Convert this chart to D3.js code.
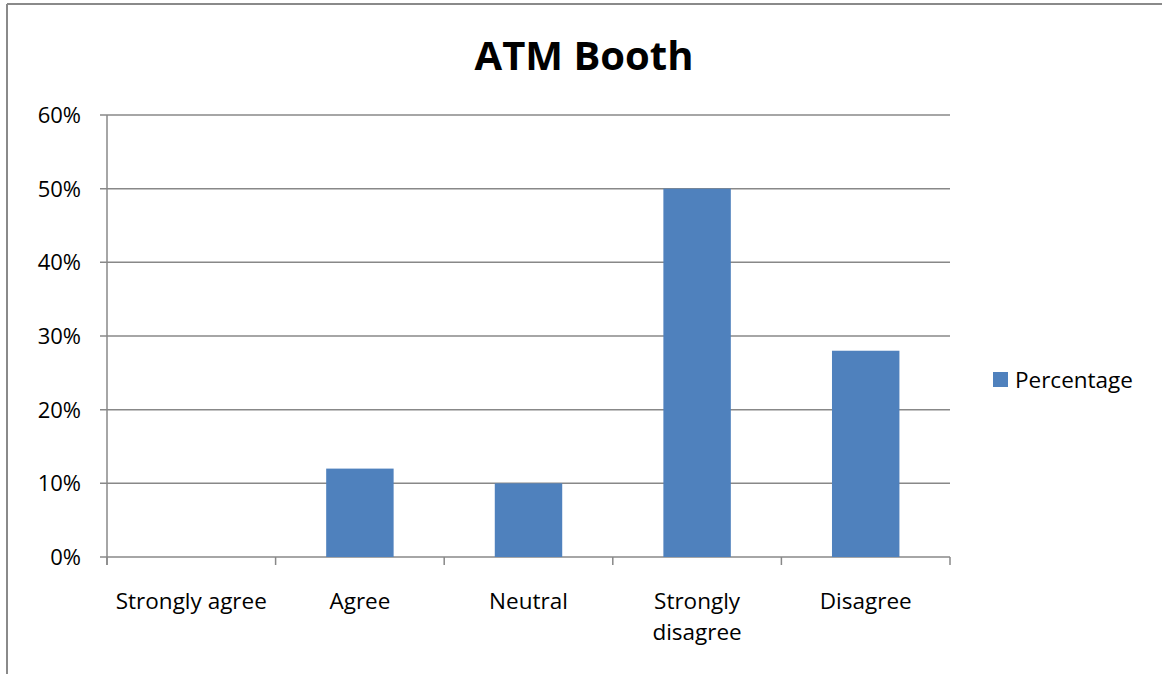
<!DOCTYPE html>
<html>
<head>
<script src="https://d3js.org/d3.v7.min.js"></script>
<style>
body { margin: 0; background: #fff; }
text { font-family: "Open Sans", "Noto Sans", sans-serif; fill: #000; }
</style>
</head>
<body>
<script>
var categories = ["Strongly agree", "Agree", "Neutral", "Strongly disagree", "Disagree"];
var percentages = [0, 12, 10, 50, 28];
var yTicks = [0, 10, 20, 30, 40, 50, 60];
var seriesName = "Percentage";
var chartTitle = "ATM Booth";

var W = 1162, H = 674;
var margin = {top: 115, left: 107, right: 212, bottom: 117};
var width = W - margin.left - margin.right,
    height = H - margin.top - margin.bottom;

var svg = d3.select("body").append("svg")
    .attr("width", W)
    .attr("height", H);

// outer chart border (only top and left visible)
svg.append("line").attr("x1", 7).attr("x2", W).attr("y1", 4).attr("y2", 4)
    .attr("stroke", "#8a8a8a").attr("stroke-width", 2);
svg.append("line").attr("x1", 7).attr("x2", 7).attr("y1", 4).attr("y2", H)
    .attr("stroke", "#8a8a8a").attr("stroke-width", 2);

svg.append("text")
    .attr("x", 584)
    .attr("y", 70)
    .attr("text-anchor", "middle")
    .style("font-size", "40px")
    .style("font-weight", "bold")
    .text(chartTitle);

var g = svg.append("g")
    .attr("transform", "translate(" + margin.left + "," + margin.top + ")");

var x = d3.scaleBand().domain(categories).range([0, width]).paddingInner(0).paddingOuter(0);
var y = d3.scaleLinear().domain([0, 60]).range([height, 0]);

// gridlines
g.selectAll(".grid")
    .data(yTicks)
  .enter().append("line")
    .attr("class", "grid")
    .attr("x1", -7)
    .attr("x2", width)
    .attr("y1", function(d) { return y(d); })
    .attr("y2", function(d) { return y(d); })
    .attr("stroke", "#888")
    .attr("stroke-width", 1.5);

// y labels
g.selectAll(".ylab")
    .data(yTicks)
  .enter().append("text")
    .attr("class", "ylab")
    .attr("x", -26)
    .attr("y", function(d) { return y(d); })
    .attr("dy", "0.36em")
    .attr("text-anchor", "end")
    .style("font-size", "22px")
    .text(function(d) { return d + "%"; });

// bars
var barW = x.bandwidth() / 2.5;
g.selectAll(".bar")
    .data(percentages)
  .enter().append("rect")
    .attr("class", "bar")
    .attr("x", function(d, i) { return x(categories[i]) + (x.bandwidth() - barW) / 2; })
    .attr("width", barW)
    .attr("y", function(d) { return y(d); })
    .attr("height", function(d) { return height - y(d); })
    .attr("fill", "#4F81BD");

// y axis line
g.append("line")
    .attr("x1", 0).attr("x2", 0).attr("y1", 0).attr("y2", height + 8)
    .attr("stroke", "#888").attr("stroke-width", 1.5);

// x axis ticks at category boundaries
var bounds = categories.map(function(c) { return x(c); }).concat([width]);
g.selectAll(".xtick")
    .data(bounds)
  .enter().append("line")
    .attr("class", "xtick")
    .attr("x1", function(d) { return d; })
    .attr("x2", function(d) { return d; })
    .attr("y1", height)
    .attr("y2", height + 8)
    .attr("stroke", "#888")
    .attr("stroke-width", 1.5);

// x labels, wrapped like the original
var xLabelLines = {"Strongly disagree": ["Strongly", "disagree"]};
categories.forEach(function(c) {
  var lines = xLabelLines[c] || [c];
  var t = g.append("text")
      .attr("x", x(c) + x.bandwidth() / 2)
      .attr("y", height + 52)
      .attr("text-anchor", "middle")
      .style("font-size", "22.5px");
  lines.forEach(function(l, i) {
    t.append("tspan")
      .attr("x", x(c) + x.bandwidth() / 2)
      .attr("dy", i === 0 ? 0 : "1.37em")
      .text(l);
  });
});

// legend
var lg = svg.append("g").attr("transform", "translate(993,372)");
lg.append("rect").attr("width", 15).attr("height", 15).attr("fill", "#4F81BD");
lg.append("text")
    .attr("x", 22)
    .attr("y", 8)
    .attr("dy", "0.36em")
    .style("font-size", "22.5px")
    .text(seriesName);
</script>
</body>
</html>
